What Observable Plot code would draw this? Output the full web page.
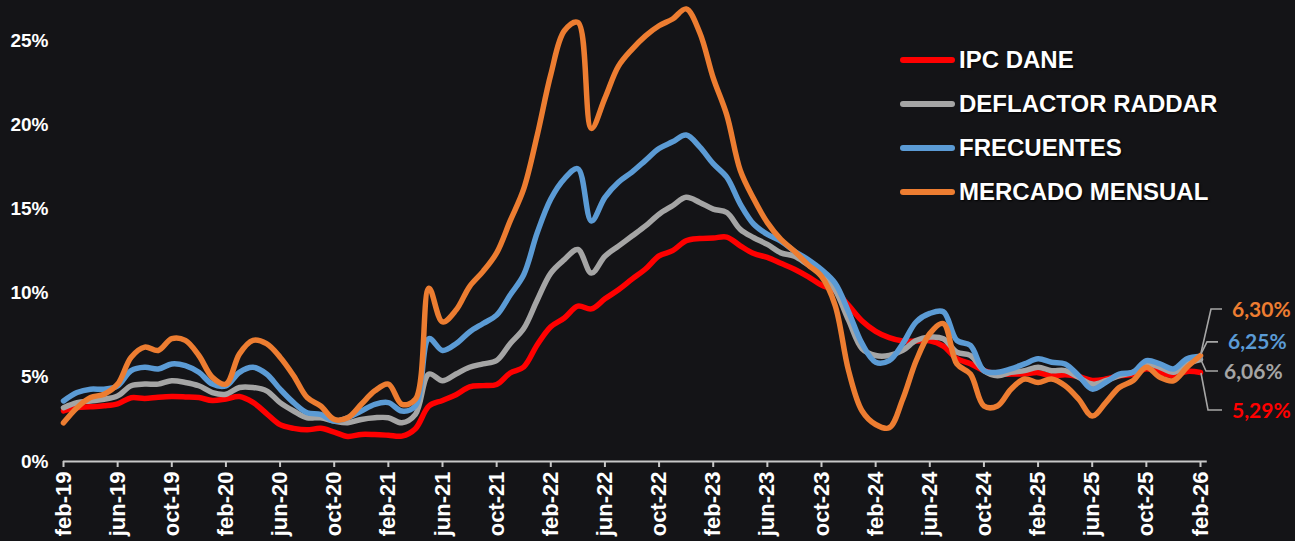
<!DOCTYPE html>
<html><head><meta charset="utf-8">
<script src="https://cdn.jsdelivr.net/npm/d3@7"></script>
<script src="https://cdn.jsdelivr.net/npm/@observablehq/plot@0.6"></script>
<style>
html,body{margin:0;padding:0;background:#141417;}
#chart{position:relative;width:1295px;height:541px;overflow:hidden;}
.legend{position:absolute;left:900px;top:38px;font-family:"Liberation Sans",Arial,sans-serif;font-weight:bold;font-size:24px;color:#fff;}
.legend .item{display:flex;align-items:center;height:44px;text-shadow:1px 1px 2px #000;}
.legend .sw{width:55px;height:6px;border-radius:3px;margin-right:4px;}
</style></head><body><div id="chart"></div>
<script>
// Month index 0 = feb-19 ... 84 = feb-26
const tickLabels = ["feb-19","jun-19","oct-19","feb-20","jun-20","oct-20","feb-21","jun-21","oct-21","feb-22","jun-22","oct-22","feb-23","jun-23","oct-23","feb-24","jun-24","oct-24","feb-25","jun-25","oct-25","feb-26"];
const yTicks = [0,5,10,15,20,25];
const seriesNames = ["IPC DANE","DEFLACTOR RADDAR","FRECUENTES","MERCADO MENSUAL"];
const seriesColors = ["#FF0000","#A5A5A5","#5B9BD5","#ED7D31"];

const ipcDane = [3.01,3.21,3.25,3.31,3.43,3.79,3.75,3.82,3.86,3.84,3.80,3.62,3.72,3.86,3.51,2.85,2.19,1.97,1.88,1.97,1.75,1.49,1.61,1.60,1.56,1.51,1.95,3.30,3.63,3.97,4.44,4.51,4.58,5.26,5.62,6.94,8.01,8.53,9.23,9.07,9.67,10.21,10.84,11.44,12.22,12.53,13.12,13.25,13.28,13.34,12.82,12.36,12.13,11.78,11.43,10.99,10.48,10.15,9.28,8.35,7.74,7.36,7.16,7.16,7.18,6.86,6.12,5.81,5.41,5.20,5.20,5.22,5.28,5.09,5.16,5.05,4.82,4.90,5.10,5.18,5.51,5.30,5.10,5.35,5.29];
const deflactorRaddar = [3.2,3.5,3.6,3.7,3.9,4.5,4.6,4.6,4.8,4.7,4.5,4.1,4.0,4.4,4.4,4.2,3.5,3.0,2.6,2.6,2.4,2.3,2.5,2.6,2.6,2.3,2.8,5.2,4.8,5.2,5.6,5.8,6.0,7.0,7.9,9.6,11.2,12.0,12.6,11.2,12.2,12.8,13.4,14.0,14.7,15.2,15.7,15.4,15.0,14.8,13.8,13.3,12.9,12.4,12.2,11.7,11.2,10.2,8.4,6.7,6.3,6.3,6.6,7.2,7.4,7.3,6.5,6.3,5.4,5.1,5.3,5.4,5.6,5.4,5.4,5.0,4.6,4.8,5.1,5.3,5.8,5.6,5.3,5.8,6.06];
const frecuentes = [3.6,4.1,4.3,4.3,4.5,5.4,5.6,5.5,5.8,5.7,5.3,4.6,4.5,5.3,5.6,5.2,4.3,3.5,2.9,2.8,2.4,2.6,3.0,3.4,3.5,3.0,3.3,7.3,6.6,7.0,7.7,8.2,8.7,9.9,11.1,13.6,15.6,16.8,17.4,14.3,15.7,16.6,17.2,17.9,18.6,19.0,19.4,18.7,17.7,16.9,15.3,14.1,13.5,13.1,12.5,12.0,11.4,10.6,8.9,7.0,5.9,6.0,7.0,8.3,8.8,8.9,7.2,6.9,5.4,5.3,5.5,5.8,6.1,5.9,5.8,5.1,4.3,4.7,5.2,5.3,6.0,5.8,5.5,6.1,6.25];
const mercadoMensual = [2.3,3.2,3.8,4.0,4.6,6.2,6.8,6.6,7.3,7.2,6.3,5.0,4.6,6.4,7.2,7.0,6.2,5.1,3.8,3.3,2.5,2.6,3.4,4.2,4.6,3.4,3.7,10.3,8.3,9.0,10.4,11.3,12.4,14.3,16.2,19.4,23.0,25.6,26.1,19.8,21.6,23.5,24.5,25.3,25.9,26.3,26.9,25.5,22.8,20.6,17.3,15.6,14.2,13.2,12.5,11.7,11.0,9.3,5.4,3.0,2.2,2.0,3.7,6.0,7.6,8.2,5.8,5.2,3.3,3.3,4.3,4.9,4.7,4.9,4.5,3.7,2.7,3.5,4.4,4.8,5.6,5.0,4.8,5.6,6.30];

const seriesValues = [ipcDane, deflactorRaddar, frecuentes, mercadoMensual];
// end-label layout (pixel offsets): [label dy, connector bend dx, horizontal end dx, text dx]
const endLayout = [[38,8,22,32],[12,6,18,24],[-14,7,18,28],[-46,11,22,32]];

const series = seriesNames.map((name,k)=>({name, color:seriesColors[k], rows: seriesValues[k].map((v,i)=>({m:i, v}))}));

function endLabels(index, scales) {
  const g = d3.create("svg:g");
  series.forEach((s,k)=>{
    const last = s.rows[s.rows.length-1];
    const x0 = scales.x(last.m), y0 = scales.y(last.v);
    const [dy,bx,hx,tx] = endLayout[k];
    const yl = y0 + dy;
    g.append("path")
      .attr("d", `M${x0+1},${y0 + (dy>0?1:-2)} L${x0+bx},${yl} L${x0+hx},${yl}`)
      .attr("fill","none").attr("stroke","#a6a6a6").attr("stroke-width",1.6);
    g.append("text").attr("x", x0+tx).attr("y", yl).attr("dy","0.36em")
      .attr("text-anchor","start")
      .attr("fill", s.color).attr("font-family","Lato, 'Open Sans', sans-serif")
      .attr("font-weight","bold").attr("font-size",21)
      .text(last.v.toFixed(2).replace(".",",")+"%");
  });
  return g.node();
}

const chart = Plot.plot({
  width: 1295, height: 541,
  marginLeft: 63, marginRight: 95, marginTop: 0, marginBottom: 80,
  style: {background:"#141417", color:"#ffffff", fontFamily:"'Liberation Sans', Arial, sans-serif", overflow:"visible"},
  x: {domain:[0,84], axis:null},
  y: {domain:[0,27.4], axis:null},
  marks: [
    Plot.ruleY([0], {x1:0, x2:84.5, stroke:"#c8c8c8", strokeWidth:2}),
    Plot.axisX(d3.range(0,85,4), {tickFormat: d=>tickLabels[d/4], tickSize:6, tickPadding:4, tickRotate:-90, stroke:"#c8c8c8", strokeWidth:2, fontSize:22, fontWeight:"bold", fill:"#ffffff", label:null}),
    Plot.axisY(yTicks, {tickFormat: d=>d+"%", tickSize:0, tickPadding:15, fontSize:19, fontWeight:"bold", fill:"#ffffff", label:null}),
    ...series.map(s => Plot.line(s.rows, {x:"m", y:"v", stroke:s.color, strokeWidth:5.5, curve:"catmull-rom", strokeLinecap:"round", strokeLinejoin:"round"})),
    endLabels
  ]
});
const host = document.getElementById("chart");
host.appendChild(chart);
const legend = document.createElement("div");
legend.className = "legend";
series.forEach(s=>{
  const it = document.createElement("div"); it.className="item";
  const sw = document.createElement("div"); sw.className="sw"; sw.style.background = s.color;
  const tx = document.createElement("span"); tx.textContent = s.name;
  it.appendChild(sw); it.appendChild(tx); legend.appendChild(it);
});
host.appendChild(legend);
</script></body></html>
